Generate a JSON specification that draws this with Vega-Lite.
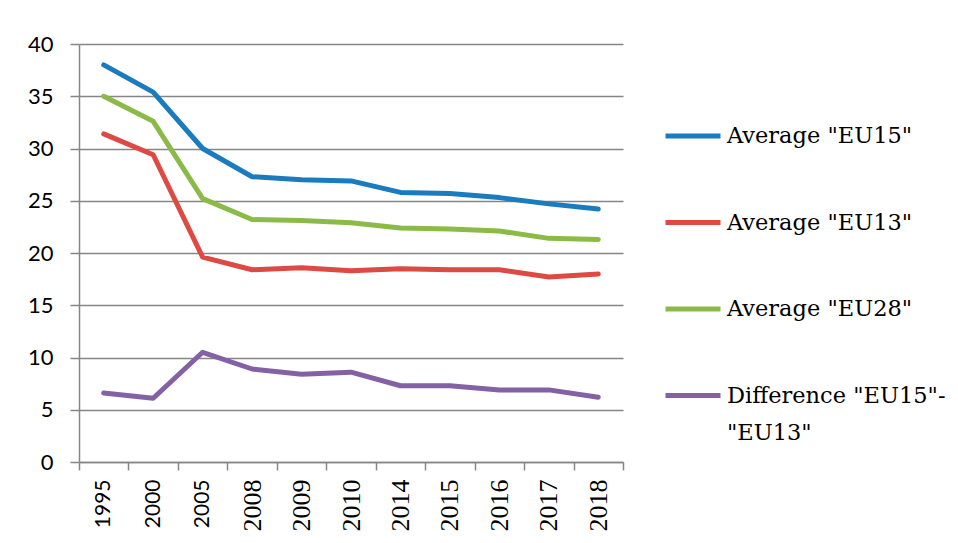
{
  "$schema": "https://vega.github.io/schema/vega-lite/v6.json",
  "width": 544,
  "height": 418,
  "autosize": {"type": "none"},
  "padding": {"left": 79, "top": 44, "right": 335, "bottom": 81},
  "background": "white",
  "config": {
    "view": {"stroke": null},
    "style": {"guide-label": {"lineHeight": 37}}
  },
  "data": {
    "values": [
      {"year": "1995", "series": "Average \"EU15\"", "value": 38.0},
      {"year": "2000", "series": "Average \"EU15\"", "value": 35.4},
      {"year": "2005", "series": "Average \"EU15\"", "value": 30.0},
      {"year": "2008", "series": "Average \"EU15\"", "value": 27.3},
      {"year": "2009", "series": "Average \"EU15\"", "value": 27.0},
      {"year": "2010", "series": "Average \"EU15\"", "value": 26.9},
      {"year": "2014", "series": "Average \"EU15\"", "value": 25.8},
      {"year": "2015", "series": "Average \"EU15\"", "value": 25.7},
      {"year": "2016", "series": "Average \"EU15\"", "value": 25.3},
      {"year": "2017", "series": "Average \"EU15\"", "value": 24.7},
      {"year": "2018", "series": "Average \"EU15\"", "value": 24.2},
      {"year": "1995", "series": "Average \"EU13\"", "value": 31.4},
      {"year": "2000", "series": "Average \"EU13\"", "value": 29.4},
      {"year": "2005", "series": "Average \"EU13\"", "value": 19.6},
      {"year": "2008", "series": "Average \"EU13\"", "value": 18.4},
      {"year": "2009", "series": "Average \"EU13\"", "value": 18.6},
      {"year": "2010", "series": "Average \"EU13\"", "value": 18.3},
      {"year": "2014", "series": "Average \"EU13\"", "value": 18.5},
      {"year": "2015", "series": "Average \"EU13\"", "value": 18.4},
      {"year": "2016", "series": "Average \"EU13\"", "value": 18.4},
      {"year": "2017", "series": "Average \"EU13\"", "value": 17.7},
      {"year": "2018", "series": "Average \"EU13\"", "value": 18.0},
      {"year": "1995", "series": "Average \"EU28\"", "value": 35.0},
      {"year": "2000", "series": "Average \"EU28\"", "value": 32.6},
      {"year": "2005", "series": "Average \"EU28\"", "value": 25.2},
      {"year": "2008", "series": "Average \"EU28\"", "value": 23.2},
      {"year": "2009", "series": "Average \"EU28\"", "value": 23.1},
      {"year": "2010", "series": "Average \"EU28\"", "value": 22.9},
      {"year": "2014", "series": "Average \"EU28\"", "value": 22.4},
      {"year": "2015", "series": "Average \"EU28\"", "value": 22.3},
      {"year": "2016", "series": "Average \"EU28\"", "value": 22.1},
      {"year": "2017", "series": "Average \"EU28\"", "value": 21.4},
      {"year": "2018", "series": "Average \"EU28\"", "value": 21.3},
      {"year": "1995", "series": "Difference \"EU15\"-\"EU13\"", "value": 6.6},
      {"year": "2000", "series": "Difference \"EU15\"-\"EU13\"", "value": 6.1},
      {"year": "2005", "series": "Difference \"EU15\"-\"EU13\"", "value": 10.5},
      {"year": "2008", "series": "Difference \"EU15\"-\"EU13\"", "value": 8.9},
      {"year": "2009", "series": "Difference \"EU15\"-\"EU13\"", "value": 8.4},
      {"year": "2010", "series": "Difference \"EU15\"-\"EU13\"", "value": 8.6},
      {"year": "2014", "series": "Difference \"EU15\"-\"EU13\"", "value": 7.3},
      {"year": "2015", "series": "Difference \"EU15\"-\"EU13\"", "value": 7.3},
      {"year": "2016", "series": "Difference \"EU15\"-\"EU13\"", "value": 6.9},
      {"year": "2017", "series": "Difference \"EU15\"-\"EU13\"", "value": 6.9},
      {"year": "2018", "series": "Difference \"EU15\"-\"EU13\"", "value": 6.2}
    ]
  },
  "mark": {"type": "line", "strokeWidth": 5, "strokeCap": "round", "strokeJoin": "round"},
  "encoding": {
    "x": {
      "field": "year",
      "type": "ordinal",
      "bandPosition": 0.5,
      "scale": {"type": "band", "paddingInner": 0, "paddingOuter": 0},
      "axis": {
        "title": null,
        "labelAngle": -90,
        "labelAlign": "right",
        "labelBaseline": "middle",
        "labelFontSize": {"condition": {"test": "indexof(['1995','2000','2005'], datum.value) >= 0", "value": 21}, "value": 26},
        "labelFont": {"condition": {"test": "indexof(['1995','2000','2005'], datum.value) >= 0", "value": "Lato"}, "value": "Liberation Serif"},
        "labelColor": "#000000",
        "labelPadding": 9,
        "tickBand": "extent",
        "tickSize": 8,
        "tickColor": "#868686",
        "tickWidth": 1.5,
        "domainColor": "#868686",
        "domainWidth": 1.5,
        "grid": false
      }
    },
    "y": {
      "field": "value",
      "type": "quantitative",
      "scale": {"domain": [0, 40], "nice": false},
      "axis": {
        "title": null,
        "values": [0, 5, 10, 15, 20, 25, 30, 35, 40],
        "labelFont": "Lato",
        "labelFontSize": 22,
        "labelColor": "#000000",
        "labelPadding": 17,
        "tickSize": 9,
        "tickColor": "#868686",
        "tickWidth": 1.5,
        "domainColor": "#868686",
        "domainWidth": 1.5,
        "grid": true,
        "gridColor": "#868686",
        "gridWidth": 1.5
      }
    },
    "color": {
      "field": "series",
      "type": "nominal",
      "scale": {
        "domain": ["Average \"EU15\"", "Average \"EU13\"", "Average \"EU28\"", "Difference \"EU15\"-\"EU13\""],
        "range": ["#1A7BBF", "#DC4A43", "#8BBA48", "#8461A4"]
      },
      "legend": {
        "title": null,
        "orient": "none",
        "legendX": 584,
        "legendY": 62,
        "padding": 0,
        "symbolType": "stroke",
        "symbolSize": 3025,
        "symbolStrokeWidth": 5,
        "labelFont": "DejaVu Serif",
        "labelFontSize": 22.5,
        "labelColor": "#000000",
        "labelOffset": 4,
        "labelLimit": 400,
        "rowPadding": 44.5,
        "labelExpr": "indexof(datum.label, 'Difference') == 0 ? ['Difference \"EU15\"-', '\"EU13\"'] : datum.label"
      }
    }
  }
}
